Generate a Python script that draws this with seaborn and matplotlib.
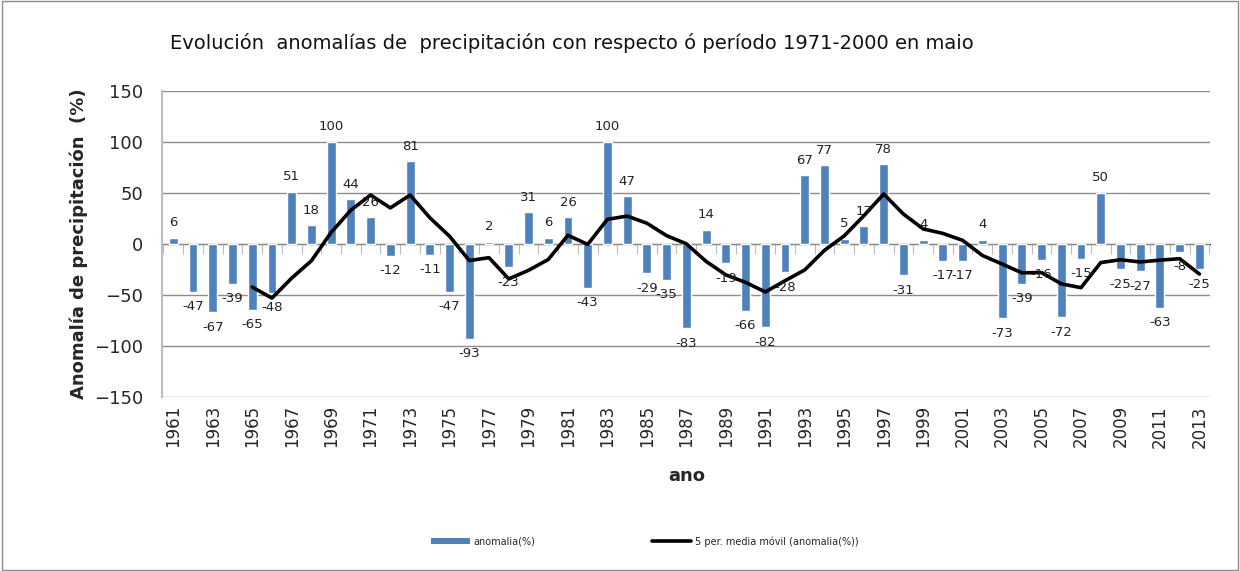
import pandas as pd
import numpy as np
import matplotlib.pyplot as plt
import seaborn as sns
from matplotlib.patches import Patch, Rectangle
from matplotlib.lines import Line2D
from matplotlib.ticker import FixedLocator, NullFormatter

years = list(range(1961, 2014))
anomalia = [6, -47, -67, -39, -65, -48, 51, 18, 100, 44,
            26, -12, 81, -11, -47, -93, 2, -23, 31, 6,
            26, -43, 100, 47, -29, -35, -83, 14, -19, -66,
            -82, -28, 67, 77, 5, 17, 78, -31, 4, -17,
            -17, 4, -73, -39, -16, -72, -15, 50, -25, -27,
            -63, -8, -25]

df = pd.DataFrame({'ano': [str(y) for y in years], 'anomalia': anomalia})
df['pos'] = np.arange(len(df))
# Excel-style trailing 5 period moving average
df['media'] = df['anomalia'].rolling(5).mean()

sns.set_style('white')
plt.rcParams['font.family'] = ['DejaVu Sans']

fig = plt.figure(figsize=(12.4, 5.71), dpi=100)
ax = fig.add_axes([0.131, 0.305, 0.845, 0.536])

bar_color = '#4F81BD'
sns.barplot(data=df, x='ano', y='anomalia', color=bar_color, width=0.45,
            saturation=1, ax=ax, zorder=2)
sns.lineplot(data=df, x='pos', y='media', color='black', linewidth=2.6, ax=ax, zorder=3)

ax.bar_label(ax.containers[0], labels=[str(v) for v in anomalia], padding=6,
             fontsize=9.5, color='#222222')

ax.set_ylim(-150, 150)
ax.set_xlim(-0.55, len(years) - 0.45)
ax.set_yticks(range(-150, 151, 50))
ax.tick_params(axis='y', labelsize=13, length=0, pad=14)
ax.yaxis.grid(True, color='#8c8c8c', linewidth=1)
ax.set_axisbelow(True)

ax.set_xticks(df['pos'][::2])
ax.set_xticklabels(df['ano'][::2], rotation=90, fontsize=12)
ax.tick_params(axis='x', length=0, pad=6)

for s in ['top', 'right', 'bottom']:
    ax.spines[s].set_visible(False)
ax.spines['left'].set_color('#bdbdbd')
ax.spines['left'].set_linewidth(1.5)

# tick marks between categories, hanging below the zero line
sec = ax.secondary_xaxis(0.5)
sec.xaxis.set_major_locator(FixedLocator(np.arange(-0.5, len(years), 1)))
sec.xaxis.set_major_formatter(NullFormatter())
sec.tick_params(axis='x', length=7, color='#bdbdbd', direction='in')
sec.spines['bottom'].set_visible(False)

ax.set_xlabel('ano', fontsize=13, fontweight='bold', labelpad=14)
ax.set_ylabel('Anomalía de precipitación  (%)', fontsize=13, fontweight='bold', labelpad=4)

fig.text(0.137, 0.925, 'Evolución  anomalías de  precipitación con respecto ó período 1971-2000 en maio',
         fontsize=14, ha='left', va='center', color='#111111', fontweight='medium')

handles = [Patch(facecolor=bar_color, edgecolor='none'),
           Line2D([0], [0], color='black', linewidth=2.6)]
fig.legend(handles, ['anomalia(%)', '5 per. media móvil (anomalia(%))'],
           loc='center', bbox_to_anchor=(0.52, 0.052), ncol=2, frameon=False,
           fontsize=7, columnspacing=12, handlelength=4, handleheight=0.6,
           handletextpad=0.4)

fig.add_artist(Rectangle((0.002, 0.002), 0.996, 0.996, transform=fig.transFigure,
                         fill=False, edgecolor='#8c8c8c', linewidth=1))

fig.savefig('out.png', dpi=100)
